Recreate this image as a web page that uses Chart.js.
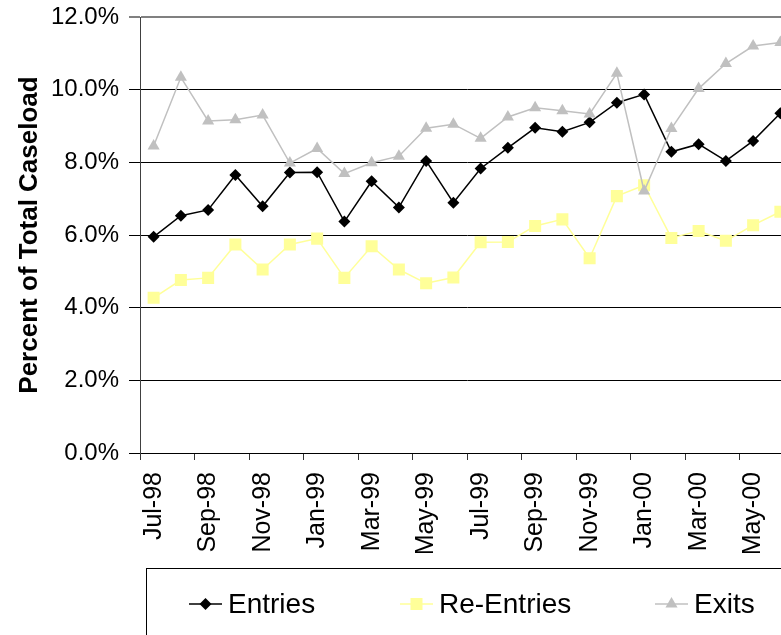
<!DOCTYPE html>
<html>
<head>
<meta charset="utf-8">
<script src="https://cdn.jsdelivr.net/npm/chart.js@4.4.0/dist/chart.umd.min.js"></script>
<style>
    html, body { margin: 0; padding: 0; overflow: hidden; background: #fff; }
    canvas { display: block; }
</style>
</head>
<body>
<canvas id="caseload" width="810" height="660"></canvas>
<script>
/*----------------------------------------------------------------*/
const months = ["Jul-98", "Aug-98", "Sep-98", "Oct-98", "Nov-98", "Dec-98", "Jan-99", "Feb-99", "Mar-99", "Apr-99", "May-99", "Jun-99",
    "Jul-99", "Aug-99", "Sep-99", "Oct-99", "Nov-99", "Dec-99", "Jan-00", "Feb-00", "Mar-00", "Apr-00", "May-00", "Jun-00"];
const entries = [5.95, 6.53, 6.69, 7.65, 6.79, 7.72, 7.73, 6.37, 7.48, 6.76, 8.04, 6.89, 7.83, 8.40, 8.95, 8.84, 9.10, 9.64, 9.87, 8.29, 8.50, 8.04, 8.59, 9.35];
const reEntries = [4.27, 4.76, 4.82, 5.74, 5.05, 5.74, 5.90, 4.82, 5.69, 5.05, 4.67, 4.83, 5.80, 5.81, 6.25, 6.43, 5.36, 7.07, 7.37, 5.92, 6.11, 5.84, 6.27, 6.64];
const exits = [8.45, 10.34, 9.14, 9.17, 9.30, 7.98, 8.38, 7.69, 7.99, 8.17, 8.94, 9.05, 8.66, 9.25, 9.50, 9.42, 9.33, 10.45, 7.21, 8.93, 10.03, 10.72, 11.20, 11.30];
const yMin = 0, yMax = 12, yStep = 2;

const FONT = "'Liberation Sans', Arial, sans-serif";

// legend drawn in a box under the axis, line + marker like the office chart
const boxLegend = {
    id: "boxLegend",
    afterDraw(chart) {
        const { ctx, chartArea } = chart;
        const left = chartArea.left + 6;
        const top = chartArea.bottom + 115;
        const slots = [43, 254, 509];
        ctx.save();
        ctx.strokeStyle = "#000";
        ctx.lineWidth = 1;
        ctx.strokeRect(left + 0.5, top + 0.5, chart.width, 200);
        chart.data.datasets.forEach((ds, i) => {
            const x = left + slots[i];
            const y = top + 36;
            ctx.strokeStyle = ds.borderColor;
            ctx.lineWidth = 1.5;
            ctx.beginPath();
            ctx.moveTo(x, y);
            ctx.lineTo(x + 33, y);
            ctx.stroke();
            ctx.fillStyle = ds.pointBackgroundColor;
            Chart.helpers.drawPoint(ctx, { pointStyle: ds.pointStyle, radius: ds.pointRadius, borderWidth: 0, rotation: 0 }, x + 16.5, y);
            ctx.fillStyle = "#000";
            ctx.font = "28px " + FONT;
            ctx.textAlign = "left";
            ctx.textBaseline = "middle";
            ctx.fillText(ds.label, x + 39, y + 1);
        });
        ctx.restore();
    }
};

new Chart(document.getElementById("caseload"), {
    type: "line",
    data: {
        labels: months,
        datasets: [
            {
                label: "Entries",
                data: entries,
                borderColor: "#000000",
                pointBackgroundColor: "#000000",
                borderWidth: 1.5,
                pointStyle: "rectRot",
                pointRadius: 6,
                pointBorderWidth: 0,
                order: 3
            },
            {
                label: "Re-Entries",
                data: reEntries,
                borderColor: "#FFFF99",
                pointBackgroundColor: "#FFFF99",
                borderWidth: 1.5,
                pointStyle: "rect",
                pointRadius: 8.5,
                pointBorderWidth: 0,
                order: 2
            },
            {
                label: "Exits",
                data: exits,
                borderColor: "#C0C0C0",
                pointBackgroundColor: "#C0C0C0",
                borderWidth: 1.5,
                pointStyle: "triangle",
                pointRadius: 7,
                pointBorderWidth: 0,
                order: 1
            }
        ]
    },
    options: {
        responsive: false,
        animation: false,
        layout: {
            padding: { left: 0, right: 16, top: 17, bottom: 107 }
        },
        plugins: {
            legend: { display: false },
            tooltip: { enabled: false }
        },
        scales: {
            x: {
                offset: true,
                grid: {
                    offset: true,
                    drawOnChartArea: false,
                    drawTicks: true,
                    tickLength: 7,
                    color: "#333",
                    // tick marks only every second month, on the category edge
                    tickColor: (c) => (c.index % 2 === 0 ? "#333" : "rgba(0,0,0,0)")
                },
                border: { color: "#000", width: 1 },
                ticks: {
                    autoSkip: false,
                    maxRotation: 90,
                    minRotation: 90,
                    padding: 12,
                    color: "#000",
                    font: { family: FONT, size: 25 },
                    callback: (v, i) => (i % 2 === 0 ? months[i] : "")
                },
                afterFit: (s) => {
                    s.height = 100;
                    s.paddingLeft = 0;
                    s.paddingRight = 0;
                }
            },
            y: {
                min: yMin,
                max: yMax,
                grid: {
                    color: (c) => (c.tick && c.tick.value === yMax ? "#808080" : "#000"),
                    lineWidth: (c) => (c.tick && c.tick.value === yMax ? 2 : 1),
                    tickLength: 11
                },
                border: { color: "#404040", width: 1 },
                ticks: {
                    stepSize: yStep,
                    padding: 10,
                    color: "#000",
                    font: { family: FONT, size: 24 },
                    callback: (v) => v.toFixed(1) + "%"
                },
                title: {
                    display: true,
                    text: "Percent of Total Caseload",
                    color: "#000",
                    font: { family: FONT, size: 26, weight: "bold" },
                    padding: { top: 14, bottom: 0 }
                },
                afterFit: (s) => {
                    s.width = 140;
                    s.paddingTop = 0;
                    s.paddingBottom = 0;
                }
            }
        }
    },
    plugins: [boxLegend]
});
</script>
</body>
</html>
